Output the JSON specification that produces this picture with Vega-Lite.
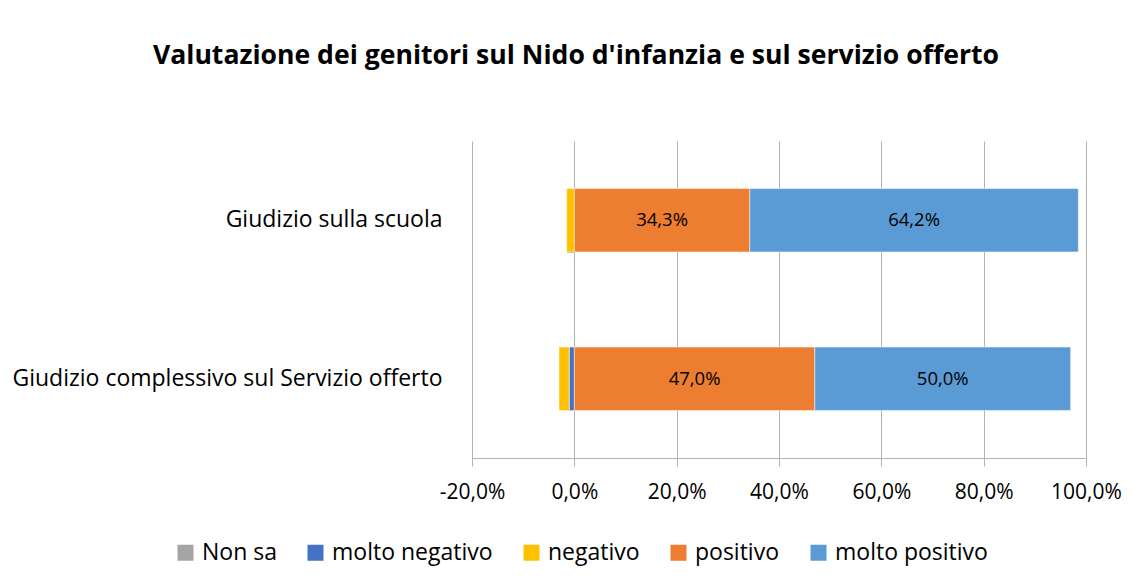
{
  "$schema": "https://vega.github.io/schema/vega-lite/v6.json",
  "autosize": {"type": "none"},
  "width": 614,
  "height": 317,
  "padding": {"left": 472, "top": 141, "right": 46, "bottom": 122},
  "background": "white",
  "title": {
    "text": "Valutazione dei genitori sul Nido d'infanzia e sul servizio offerto",
    "font": "Open Sans",
    "fontSize": 26.6,
    "fontWeight": "bold",
    "color": "#000000",
    "anchor": "middle",
    "dx": -203,
    "offset": 71
  },
  "data": {
    "values": [
      {"giudizio": "Giudizio sulla scuola", "risposta": "Non sa", "ord": 0, "valore": 0},
      {"giudizio": "Giudizio sulla scuola", "risposta": "molto negativo", "ord": 1, "valore": 0},
      {"giudizio": "Giudizio sulla scuola", "risposta": "negativo", "ord": 2, "valore": -0.015},
      {"giudizio": "Giudizio sulla scuola", "risposta": "positivo", "ord": 3, "valore": 0.343},
      {"giudizio": "Giudizio sulla scuola", "risposta": "molto positivo", "ord": 4, "valore": 0.642},
      {"giudizio": "Giudizio complessivo sul Servizio offerto", "risposta": "Non sa", "ord": 0, "valore": 0},
      {"giudizio": "Giudizio complessivo sul Servizio offerto", "risposta": "molto negativo", "ord": 1, "valore": -0.01},
      {"giudizio": "Giudizio complessivo sul Servizio offerto", "risposta": "negativo", "ord": 2, "valore": -0.02},
      {"giudizio": "Giudizio complessivo sul Servizio offerto", "risposta": "positivo", "ord": 3, "valore": 0.47},
      {"giudizio": "Giudizio complessivo sul Servizio offerto", "risposta": "molto positivo", "ord": 4, "valore": 0.5}
    ]
  },
  "layer": [
    {
      "mark": {"type": "bar", "stroke": "white", "strokeWidth": 0.5},
      "encoding": {
        "y": {
          "field": "giudizio",
          "type": "nominal",
          "sort": ["Giudizio sulla scuola", "Giudizio complessivo sul Servizio offerto"],
          "scale": {"paddingInner": 0.6, "paddingOuter": 0.3},
          "title": null,
          "axis": {
            "orient": "left",
            "domain": false,
            "ticks": false,
            "grid": false,
            "labelPadding": 30,
            "labelFont": "Open Sans",
            "labelFontSize": 23,
            "labelColor": "#000000",
            "labelLimit": 600
          }
        },
        "x": {
          "field": "valore",
          "type": "quantitative",
          "stack": "zero",
          "scale": {"domain": [-0.2, 1.0], "nice": false},
          "title": null,
          "axis": {
            "values": [-0.2, 0, 0.2, 0.4, 0.6, 0.8, 1.0],
            "format": ".1%",
            "grid": true,
            "gridColor": "#B3B3B3",
            "gridWidth": 1,
            "domainColor": "#B3B3B3",
            "tickColor": "#B3B3B3",
            "tickSize": 8,
            "labelPadding": 15,
            "labelFont": "Open Sans",
            "labelFontSize": 21,
            "labelColor": "#000000",
            "labelFlush": false
          }
        },
        "color": {
          "field": "risposta",
          "type": "nominal",
          "scale": {
            "domain": ["Non sa", "molto negativo", "negativo", "positivo", "molto positivo"],
            "range": ["#A5A5A5", "#4472C4", "#FFC000", "#ED7D31", "#5B9BD5"]
          },
          "legend": {
            "title": null,
            "orient": "none",
            "direction": "horizontal",
            "legendX": -298,
            "legendY": 400,
            "symbolType": "square",
            "symbolSize": 256,
            "symbolStrokeWidth": 0,
            "labelFont": "Open Sans",
            "labelFontSize": 23,
            "labelColor": "#000000",
            "labelLimit": 400,
            "labelOffset": 5,
            "columnPadding": 27
          }
        },
        "order": {"field": "ord", "type": "quantitative"}
      }
    },
    {
      "transform": [{"filter": "datum.valore > 0"}],
      "mark": {"type": "text", "font": "Open Sans", "fontSize": 18.5, "color": "#000000", "baseline": "middle", "align": "center"},
      "encoding": {
        "y": {
          "field": "giudizio",
          "type": "nominal",
          "sort": ["Giudizio sulla scuola", "Giudizio complessivo sul Servizio offerto"],
          "axis": null
        },
        "x": {"field": "valore", "type": "quantitative", "stack": "zero", "bandPosition": 0.5},
        "order": {"field": "ord", "type": "quantitative"},
        "text": {"field": "valore", "type": "quantitative", "format": ".1%"}
      }
    },
    {
      "mark": {"type": "rule", "opacity": 0},
      "encoding": {
        "y": {
          "field": "giudizio",
          "type": "nominal",
          "sort": ["Giudizio sulla scuola", "Giudizio complessivo sul Servizio offerto"],
          "axis": {
            "orient": "left",
            "offset": -102.4,
            "domain": false,
            "labels": false,
            "grid": false,
            "ticks": true,
            "tickBand": "extent",
            "tickColor": "#B3B3B3",
            "tickSize": 8,
            "title": null
          }
        }
      }
    }
  ],
  "resolve": {"axis": {"y": "independent"}},
  "config": {
    "view": {"stroke": null},
    "locale": {
      "number": {"decimal": ",", "thousands": ".", "grouping": [3], "currency": ["€", ""], "minus": "-"}
    }
  }
}
